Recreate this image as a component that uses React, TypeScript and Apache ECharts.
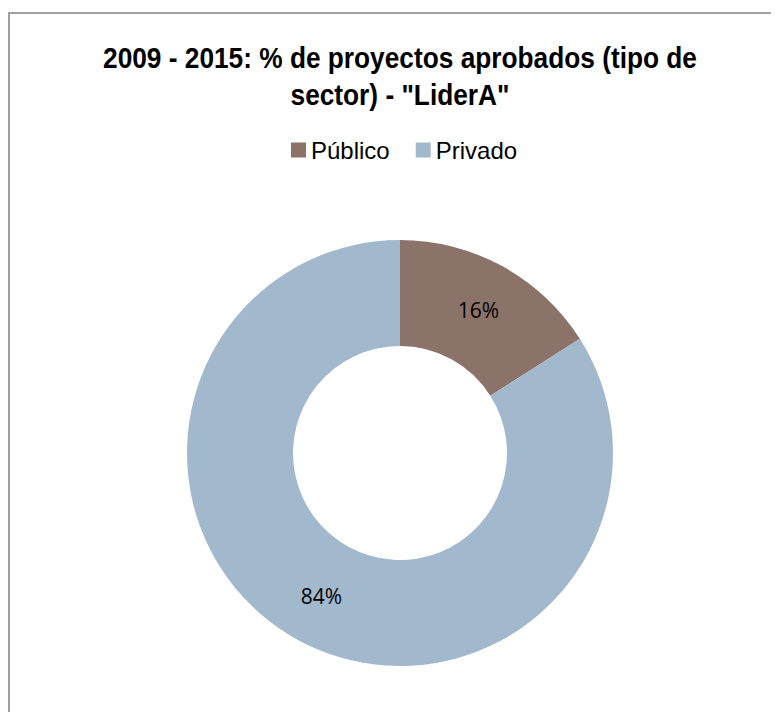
import React, { useEffect, useRef } from "react";
import * as echarts from "echarts";

const titleLines = ["2009 - 2015: % de proyectos aprobados (tipo de", 'sector) - "LiderA"'];
const categories = ["Público", "Privado"];
const shares = [16, 84];
const colors = ["#8C7369", "#A2B8CD"];

const sans = '"Liberation Sans", Arial, sans-serif';
const titleFont = `bold 29px ${sans}`;

function measure(text: string, font: string): number {
  const c = document.createElement("canvas").getContext("2d");
  if (!c) return text.length * 14;
  c.font = font;
  return c.measureText(text).width;
}

export default function App() {
  const ref = useRef<HTMLDivElement>(null);
  useEffect(() => {
    if (!ref.current) return;
    const chart = echarts.init(ref.current, null, { renderer: "svg" });
    const w1 = measure(titleLines[0], titleFont);
    const sx = w1 > 0 ? 594 / w1 : 0.82;
    chart.setOption({
      animation: false,
      backgroundColor: "#ffffff",
      legend: {
        data: categories,
        left: 278,
        top: 125,
        itemWidth: 15,
        itemHeight: 15,
        itemGap: 26,
        icon: "rect",
        textStyle: { fontFamily: sans, fontSize: 24, color: "#000000" },
      },
      graphic: [
        {
          type: "polyline",
          shape: { points: [[1, 800], [1, 5], [800, 5]] },
          style: { stroke: "#a0a0a0", lineWidth: 2, fill: "none" },
          silent: true,
        },
        ...titleLines.map((t, i) => ({
          type: "text",
          x: 392,
          y: 50 + i * 37,
          scaleX: sx,
          silent: true,
          style: {
            text: t,
            font: titleFont,
            fill: "#000000",
            align: "center",
            verticalAlign: "middle",
          },
        })),
      ],
      series: [
        {
          type: "pie",
          center: [392, 445],
          radius: [107, 213],
          startAngle: 90,
          clockwise: true,
          label: {
            show: true,
            position: "inside",
            formatter: "{c}%",
            fontFamily: '"Open Sans", "Noto Sans", sans-serif',
            fontSize: 21,
            color: "#000000",
          },
          labelLine: { show: false },
          emphasis: { disabled: true },
          data: categories.map((name, i) => ({
            name,
            value: shares[i],
            itemStyle: { color: colors[i] },
          })),
        },
      ],
    });
    return () => chart.dispose();
  }, []);
  return <div ref={ref} style={{ width: 771, height: 704 }} />;
}
